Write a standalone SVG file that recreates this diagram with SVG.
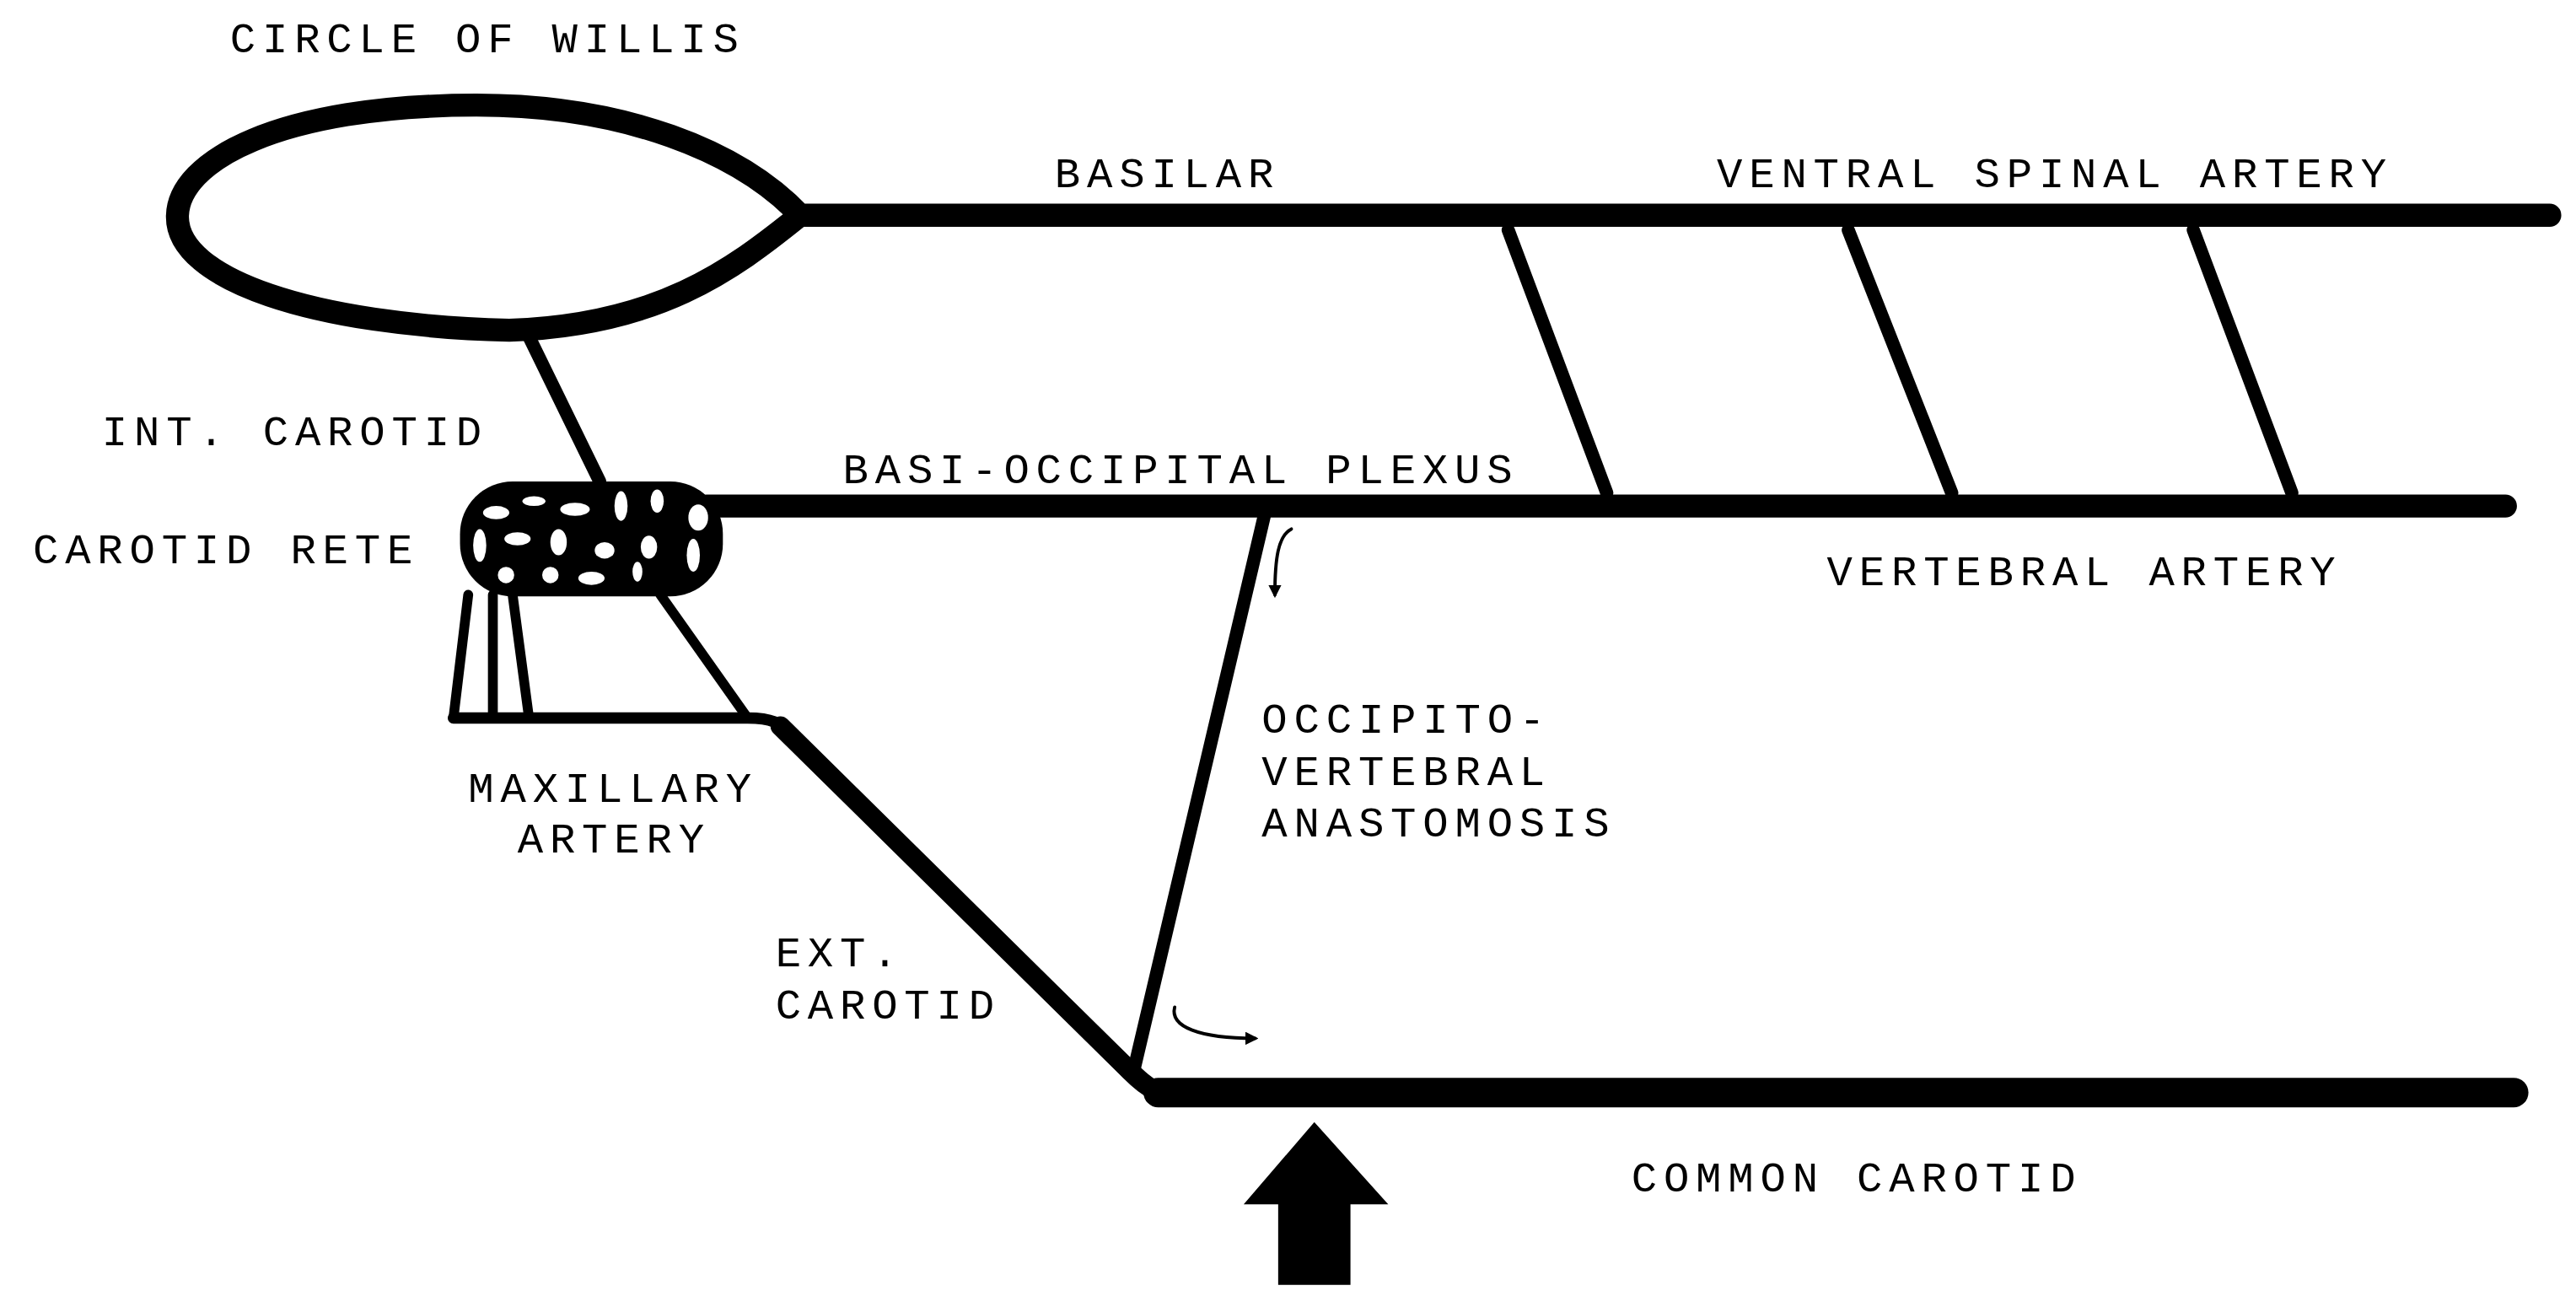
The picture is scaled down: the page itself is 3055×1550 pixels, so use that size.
<svg xmlns="http://www.w3.org/2000/svg" width="3055" height="1550" viewBox="0 0 3055 1550">
<style>
.v{fill:none;stroke:#000;stroke-linecap:round;stroke-linejoin:round}
.t{font-family:"Liberation Mono",monospace;font-size:26px;letter-spacing:4px;fill:#000}
</style>
<defs><marker id="ah" markerWidth="8" markerHeight="8" refX="6" refY="4" orient="auto" markerUnits="userSpaceOnUse"><path d="M0,0 L8,4 L0,8 Z" fill="#000"/></marker></defs>
<rect width="3055" height="1550" fill="#fff"/>
<g transform="scale(1.9484)">
<g id="connectors">
<path class="v" stroke-width="14" d="M487,131 C 450,92 380,64 290,64 C 170,64 108,98 108,132 C 108,170 190,198 310,201 C 400,198 445,165 487,131 L1552,131"/>
<path class="v" stroke-width="8" d="M918,140 L978,300 M1125,140 L1188,300 M1335,140 L1395,300"/>
<path class="v" stroke-width="14" d="M430,308 L1525,308"/>
<path class="v" stroke-width="8" d="M322,205 L365,293"/>
<path class="v" stroke-width="8" d="M770,312 L690,652"/>
<path class="v" stroke-width="6" d="M285,362 L276,437 M300,362 L300,437 M312,362 L322,437 M402,362 L455,437"/>
<path class="v" stroke-width="7" d="M276,437 L455,437 C470,437 475,440 480,447"/>
<path class="v" stroke-width="12" d="M475,442 L688,652 C700,664 705,666 720,666"/>
<path class="v" stroke-width="18" d="M705,665 L1530,665"/>
<path class="v" stroke-width="2" marker-end="url(#ah)" d="M786,322 C778,326 776,340 776,362"/>
<path class="v" stroke-width="2" marker-end="url(#ah)" d="M715,613 C712,625 730,632 764,632"/>
</g>
<g id="rete">
<rect x="280" y="293" width="160" height="70" rx="32" fill="#000"/>
<g fill="#fff">
<ellipse cx="302" cy="312" rx="8" ry="4"/><ellipse cx="325" cy="305" rx="7" ry="3"/>
<ellipse cx="350" cy="310" rx="9" ry="4"/><ellipse cx="378" cy="308" rx="4" ry="9"/>
<ellipse cx="400" cy="305" rx="4" ry="7"/><ellipse cx="425" cy="315" rx="6" ry="8"/>
<ellipse cx="292" cy="332" rx="4" ry="10"/><ellipse cx="315" cy="328" rx="8" ry="4"/>
<ellipse cx="340" cy="330" rx="5" ry="8"/><ellipse cx="368" cy="335" rx="6" ry="5"/>
<ellipse cx="395" cy="333" rx="5" ry="7"/><ellipse cx="422" cy="338" rx="4" ry="10"/>
<ellipse cx="308" cy="350" rx="5" ry="5"/><ellipse cx="335" cy="350" rx="5" ry="5"/>
<ellipse cx="360" cy="352" rx="8" ry="4"/><ellipse cx="388" cy="348" rx="3" ry="6"/>
</g>
</g>
<g id="bigarrow"><path d="M800,683 L845,733 L822,733 L822,782 L778,782 L778,733 L757,733 Z" fill="#000"/></g>
<g id="labels">
<text class="t" x="140" y="32">CIRCLE OF WILLIS</text>
<text class="t" x="642" y="114">BASILAR</text>
<text class="t" x="1045" y="114">VENTRAL SPINAL ARTERY</text>
<text class="t" x="62" y="271">INT. CAROTID</text>
<text class="t" x="513" y="294">BASI-OCCIPITAL PLEXUS</text>
<text class="t" x="20" y="343">CAROTID RETE</text>
<text class="t" x="1112" y="356">VERTEBRAL ARTERY</text>
<text class="t" x="768" y="446">OCCIPITO-</text>
<text class="t" x="768" y="478">VERTEBRAL</text>
<text class="t" x="768" y="509">ANASTOMOSIS</text>
<text class="t" x="285" y="488">MAXILLARY</text>
<text class="t" x="315" y="519">ARTERY</text>
<text class="t" x="472" y="588">EXT.</text>
<text class="t" x="472" y="620">CAROTID</text>
<text class="t" x="993" y="725">COMMON CAROTID</text>
</g>
</g>
</svg>
